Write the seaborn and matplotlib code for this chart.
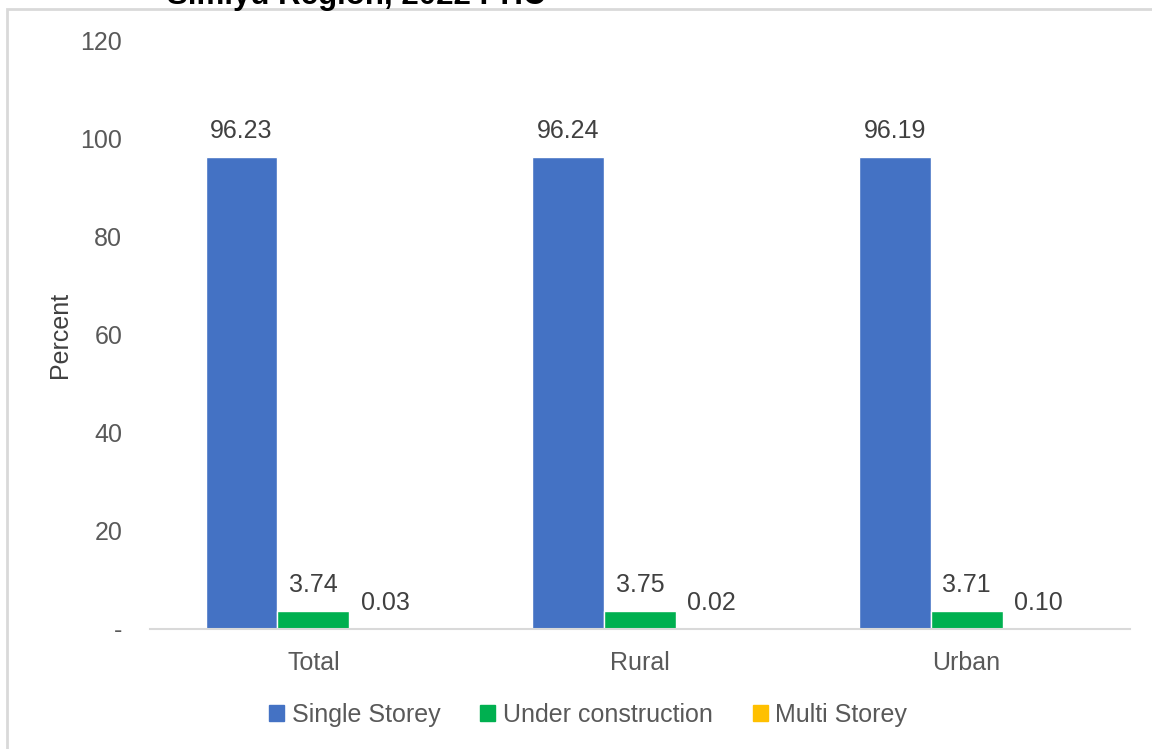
import matplotlib.pyplot as plt
import matplotlib.patches as mpatches
import seaborn as sns
import pandas as pd
from matplotlib import font_manager

# Dados
areas = ['Total', 'Rural', 'Urban']
tipos = ['Single Storey', 'Under construction', 'Multi Storey']
single_storey = [96.23, 96.24, 96.19]
under_construction = [3.74, 3.75, 3.71]
multi_storey = [0.03, 0.02, 0.10]
y_ticks = [0, 20, 40, 60, 80, 100, 120]
y_tick_labels = ['-', '20', '40', '60', '80', '100', '120']
cores = ['#4472C4', '#00B050', '#FFC000']

df = pd.DataFrame({
    'Area': areas * 3,
    'Tipo': [t for t in tipos for _ in areas],
    'Percent': single_storey + under_construction + multi_storey,
})

sns.set_style('white')
nomes = {f.name for f in font_manager.fontManager.ttflist}
fonte = 'Liberation Sans Narrow' if 'Liberation Sans Narrow' in nomes else 'Liberation Sans'
plt.rcParams['font.family'] = [fonte, 'DejaVu Sans']
cinza = '#595959'
tam = 18

fig = plt.figure(figsize=(11.52, 7.49), dpi=100)
ax = fig.add_axes([150 / 1152, 1 - 629 / 749, 980 / 1152, 589 / 749])

sns.barplot(data=df, x='Area', y='Percent', hue='Tipo', palette=cores,
            width=0.66, ax=ax, legend=False, saturation=1)

for cont in ax.containers:
    ax.bar_label(cont, fmt='%.2f', padding=10, fontsize=tam, color='#404040')

ax.set_ylim(0, 120)
ax.set_yticks(y_ticks)
ax.set_yticklabels(y_tick_labels)
ax.set_xlabel('')
ax.set_ylabel('Percent', fontsize=tam, color='#404040', labelpad=6)
ax.tick_params(axis='both', length=0, labelsize=tam, labelcolor=cinza)
ax.tick_params(axis='y', pad=20)
ax.tick_params(axis='x', pad=16)
for s in ['top', 'right', 'left']:
    ax.spines[s].set_visible(False)
ax.spines['bottom'].set_color('#d9d9d9')
ax.spines['bottom'].set_linewidth(1.5)

# Legenda
handles = [mpatches.Patch(color=c, label=t) for c, t in zip(cores, tipos)]
fig.legend(handles=handles, loc='center', bbox_to_anchor=(588 / 1152, 1 - 715 / 749),
           ncol=3, frameon=False, fontsize=tam, labelcolor=cinza,
           handlelength=0.6, handleheight=0.6, handletextpad=0.3, columnspacing=1.6)

# Moldura do gráfico
fig.patches.append(mpatches.Rectangle((7 / 1152, -0.05), 1.2, 1 - 9 / 749 + 0.05,
                                      transform=fig.transFigure, fill=False,
                                      edgecolor='#d9d9d9', linewidth=2))

# Título (cortado no topo, como no original)
fig.text(167 / 1152, 1 - 4 / 749, 'Simiyu Region, 2022 PHC', fontsize=22.5,
         fontweight='bold', family=['Liberation Sans', 'DejaVu Sans'],
         color='black', va='baseline', ha='left')

fig.savefig('out.png', dpi=100)
